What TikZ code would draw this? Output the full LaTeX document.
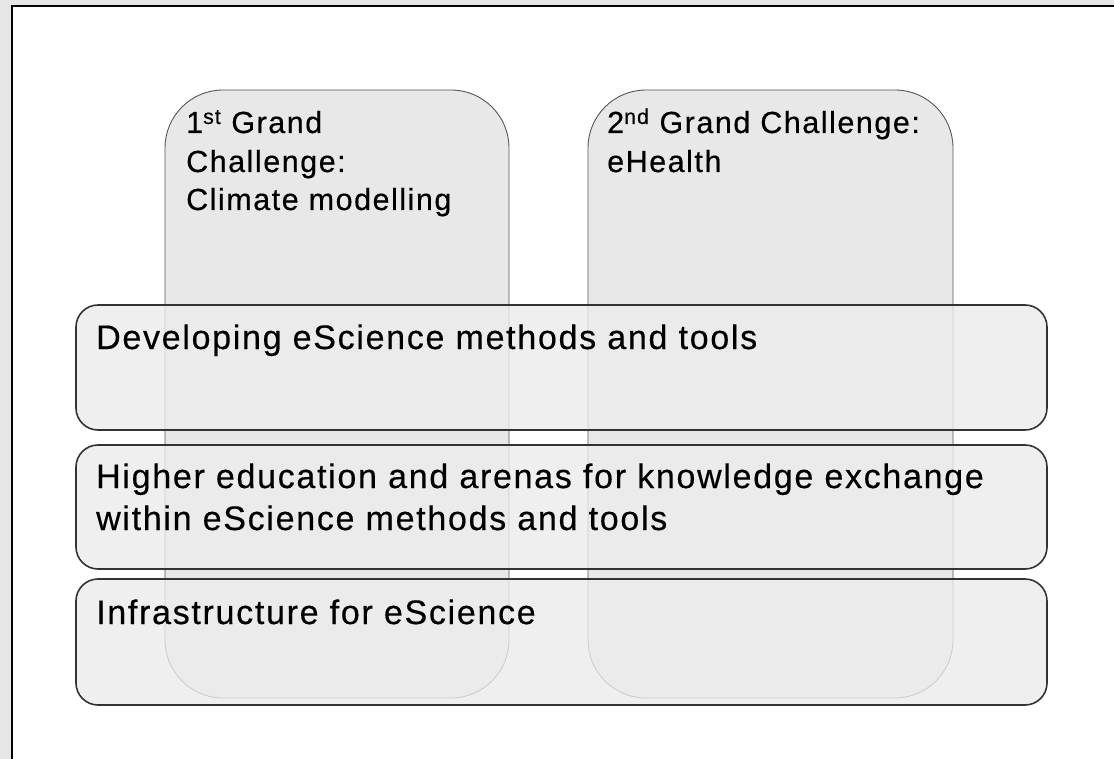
\documentclass[tikz,border=0pt]{standalone}
\usepackage{fontspec}
\setmainfont{Liberation Sans}[LetterSpace=5,FakeBold=0.4]
\definecolor{outergray}{HTML}{E6E6E6}
\definecolor{tallgray}{HTML}{E8E8E8}
\definecolor{bandgray}{HTML}{ECECEC}
\definecolor{tallline}{HTML}{555555}
\definecolor{bandline}{HTML}{333333}
\begin{document}
\begin{tikzpicture}[x=1pt,y=-1pt,
  tallbox/.style={draw=tallline, line width=0.9pt, fill=tallgray, rounded corners=58pt, anchor=north west, inner sep=0pt, outer sep=0pt},
  bandbox/.style={draw=bandline, line width=1.6pt, fill=bandgray, fill opacity=0.8, draw opacity=1, rounded corners=22pt, anchor=north west, inner sep=0pt, outer sep=0pt},
  bandtext/.style={anchor=base west, inner sep=0pt, font=\fontsize{34}{40}\selectfont},
  talltext/.style={anchor=base west, inner sep=0pt, font=\fontsize{30.5}{36}\selectfont}]
\useasboundingbox (0,0) rectangle (1114,759);
\clip (0,0) rectangle (1114,759);
\fill[outergray] (0,0) rectangle (1114,759);
\draw[line width=1.5pt, fill=white] (12,6) rectangle (1140,790);
% tall boxes
\node[tallbox, minimum width=344pt, minimum height=608pt] (gc1) at (165,90) {};
\node[tallbox, minimum width=365pt, minimum height=608pt] (gc2) at (588,90) {};
% horizontal bands
\node[bandbox, minimum width=971pt, minimum height=125pt] (bandA) at (76,305) {};
\node[bandbox, minimum width=971pt, minimum height=124pt] (bandB) at (76,445) {};
\node[bandbox, minimum width=971pt, minimum height=126pt] (bandC) at (76,579) {};
% texts
\node[talltext] (t1a) at (186,133) {1\textsuperscript{st} Grand};
\node[talltext] (t1b) at (186,172) {Challenge:};
\node[talltext] (t1c) at (186,210) {Climate modelling};
\node[talltext] (t2a) at (607,133) {2\textsuperscript{nd} Grand Challenge:};
\node[talltext] (t2b) at (607,172) {eHealth};
\node[bandtext] (ta) at (96,349) {Developing eScience methods and tools};
\node[bandtext] (tb1) at (96,488) {Higher education and arenas for knowledge exchange};
\node[bandtext] (tb2) at (96,530) {within eScience methods and tools};
\node[bandtext] (tc) at (96,624) {Infrastructure for eScience};
\end{tikzpicture}
\end{document}
